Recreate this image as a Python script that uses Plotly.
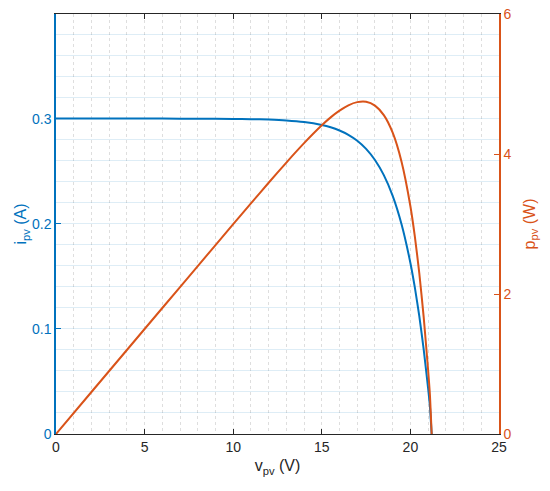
import plotly.graph_objects as go

# photovoltaic operating points
V_PV = [0, 2, 4, 6, 8, 10, 11, 12, 13, 14, 15, 15.5, 16, 16.5, 17, 17.5,
        18, 18.5, 19, 19.5, 20, 20.25, 20.5, 20.75, 21, 21.1, 21.2]
I_PV = [0.300, 0.300, 0.300, 0.300, 0.2999, 0.2997, 0.2995, 0.2991, 0.2983,
        0.2968, 0.2940, 0.2918, 0.2887, 0.2846, 0.2789, 0.2712, 0.2606,
        0.2462, 0.2265, 0.1995, 0.1627, 0.1394, 0.1123, 0.0805, 0.0434,
        0.0268, 0.0]
P_PV = [0.0, 0.60, 1.20, 1.80, 2.399, 2.997, 3.294, 3.589, 3.878, 4.155,
        4.410, 4.523, 4.619, 4.696, 4.741, 4.746, 4.691, 4.555, 4.304,
        3.890, 3.254, 2.823, 2.302, 1.670, 0.911, 0.565, 0.0]

BLUE = "#0072BD"
ORANGE = "#D95319"
FONT = "Liberation Sans, Arial, sans-serif"

fig = go.Figure()
fig.add_trace(
    go.Scatter(
        x=V_PV,
        y=I_PV,
        mode="lines",
        line=dict(color=BLUE, width=2, shape="spline", smoothing=0.6),
        yaxis="y",
        showlegend=False,
    )
)
fig.add_trace(
    go.Scatter(
        x=V_PV,
        y=P_PV,
        mode="lines",
        line=dict(color=ORANGE, width=2, shape="spline", smoothing=0.6),
        yaxis="y2",
        showlegend=False,
    )
)

fig.update_layout(
    width=550,
    height=491,
    margin=dict(l=56, r=51, t=14, b=57, autoexpand=False),
    paper_bgcolor="white",
    plot_bgcolor="white",
    font=dict(family=FONT, size=14, color="#262626"),
    xaxis=dict(
        range=[0, 25],
        dtick=5,
        ticks="inside",
        ticklen=5,
        tickcolor="#262626",
        showline=True,
        linecolor="#262626",
        linewidth=1,
        mirror="ticks",
        showgrid=True,
        gridcolor="rgba(0,0,0,0.13)",
        griddash="dot",
        zeroline=False,
        automargin=False,
        minor=dict(dtick=1, showgrid=True, gridcolor="rgba(0,0,0,0.13)", griddash="dot"),
        title=dict(text="v<sub>pv</sub> (V)", font=dict(size=16, color="#262626"), standoff=6),
        tickfont=dict(size=14, color="#262626"),
    ),
    yaxis=dict(
        range=[0, 0.3995],
        dtick=0.1,
        ticks="inside",
        ticklen=5,
        tickcolor=BLUE,
        showline=True,
        linecolor=BLUE,
        linewidth=1.5,
        showgrid=True,
        gridcolor="rgba(0,114,189,0.13)",
        zeroline=False,
        automargin=False,
        minor=dict(dtick=0.02, showgrid=True, gridcolor="rgba(0,114,189,0.13)"),
        tickfont=dict(size=14, color=BLUE),
        title=dict(text="i<sub>pv</sub> (A)", font=dict(size=16, color=BLUE), standoff=1),
    ),
    yaxis2=dict(
        overlaying="y",
        side="right",
        range=[0, 6],
        dtick=2,
        ticks="inside",
        ticklen=5,
        tickcolor=ORANGE,
        showline=True,
        linecolor=ORANGE,
        linewidth=1.5,
        showgrid=False,
        zeroline=False,
        automargin=False,
        tickfont=dict(size=14, color=ORANGE),
        title=dict(text="p<sub>pv</sub> (W)", font=dict(size=16, color=ORANGE), standoff=13),
    ),
)

# drop the default page margin so the figure sits at the window origin
fig.write_html(
    "out.html",
    config={"displayModeBar": False},
    post_script="document.body.style.margin='0';",
)
